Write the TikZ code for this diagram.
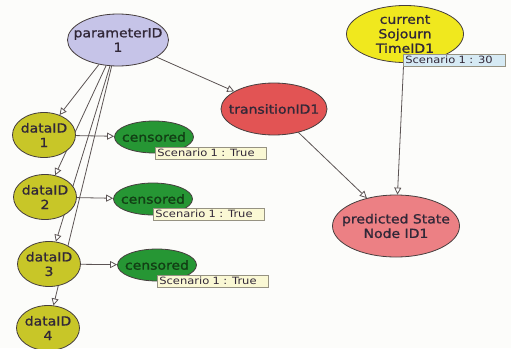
\documentclass[tikz,border=0pt]{standalone}
\usepackage{fontspec}
\setmainfont{DejaVu Sans}
\newfontfamily\nodefont{DejaVu Sans}[FakeStretch=1.12,FakeBold=1.2]
\newfontfamily\tagfont{DejaVu Sans}[FakeStretch=1.15]
\usetikzlibrary{shapes.geometric,arrows.meta,backgrounds}

\definecolor{paperbg}{RGB}{252,252,250}
\definecolor{lavender}{RGB}{198,196,232}
\definecolor{olive}{RGB}{200,198,40}
\definecolor{leaf}{RGB}{38,150,52}
\definecolor{brick}{RGB}{226,84,84}
\definecolor{salmon}{RGB}{236,128,132}
\definecolor{lemon}{RGB}{240,232,30}
\definecolor{rimgray}{RGB}{70,62,62}
\definecolor{edgegray}{RGB}{92,84,84}
\definecolor{inkdark}{RGB}{50,40,56}
\definecolor{inkgreen}{RGB}{18,62,20}
\definecolor{tagcream}{RGB}{250,248,212}
\definecolor{tagsky}{RGB}{214,234,244}
\definecolor{tagrim}{RGB}{150,146,130}

\begin{document}
\begin{tikzpicture}[x=1pt,y=-1pt,
  % ellipse size is fixed; its caption is a centred label so it cannot grow the shape
  blob/.style={ellipse, draw=rimgray, line width=0.8pt, inner sep=0pt},
  caption/.style={align=center, text=inkdark, inner sep=0pt,
    font=\nodefont\fontsize{12.5}{14.5}\selectfont},
  link/.style={draw=edgegray, line width=0.8pt,
    -{Triangle[length=7pt,width=7pt,fill=white]}},
  tag/.style={rectangle, draw=tagrim, line width=0.6pt, anchor=north west,
    inner xsep=2pt, inner ysep=0pt, minimum height=11.5pt, align=left,
    text=inkdark, font=\tagfont\fontsize{10}{11}\selectfont},
  datanode/.style={blob, fill=olive, minimum width=63pt, minimum height=45pt},
  censnode/.style={blob, fill=leaf, minimum width=79pt, minimum height=32pt,
    label={[caption, text=inkgreen]center:censored}}
]
\useasboundingbox (0,0) rectangle (511,348);

% variable nodes
\node[blob, fill=lavender, minimum width=101pt, minimum height=52pt,
  label={[caption]center:parameterID\\1}] (param) at (118,40) {};
\node[blob, fill=brick, minimum width=106pt, minimum height=52pt,
  label={[caption]center:transitionID1}] (trans) at (274,109) {};
\node[blob, fill=lemon, minimum width=117pt, minimum height=57pt,
  label={[caption]center:current\\Sojourn\\TimeID1}] (sojourn) at (405,34) {};
\node[blob, fill=salmon, minimum width=127pt, minimum height=62pt,
  label={[caption]center:predicted State\\Node ID1}] (pred) at (396,226) {};

\node[datanode, label={[caption]center:dataID\\1}] (d1) at (44,135) {};
\node[datanode, label={[caption]center:dataID\\2}] (d2) at (45,197) {};
\node[datanode, label={[caption]center:dataID\\3}] (d3) at (49,264) {};
\node[datanode, label={[caption]center:dataID\\4}] (d4) at (48,328) {};

\node[censnode] (c1) at (154,137) {};
\node[censnode] (c2) at (153,199) {};
\node[censnode] (c3) at (157,265) {};

% paper and dependencies, drawn behind the nodes
\begin{scope}[on background layer]
  \fill[paperbg] (0,0) rectangle (511,348);
  \draw[link] (param) -- (d1);
  \draw[link] (param) -- (d2);
  \draw[link] (param) -- (d3);
  \draw[link] (param) -- (d4);
  \draw[link] (param) -- (trans);
  \draw[link] (d1) -- (c1);
  \draw[link] (d2) -- (c2);
  \draw[link] (d3) -- (c3);
  \draw[link] (trans) -- (pred);
  \draw[link] (sojourn) -- (pred);
\end{scope}

% evidence tags
\node[tag, fill=tagcream, text width=107pt] (e1) at (155,147) {Scenario 1 : True};
\node[tag, fill=tagcream, text width=107pt] (e2) at (153,208) {Scenario 1 : True};
\node[tag, fill=tagcream, text width=107pt] (e3) at (157,275) {Scenario 1 : True};
\node[tag, fill=tagsky, text width=98pt] (e4) at (403,54) {Scenario 1 : 30};
\end{tikzpicture}
\end{document}
